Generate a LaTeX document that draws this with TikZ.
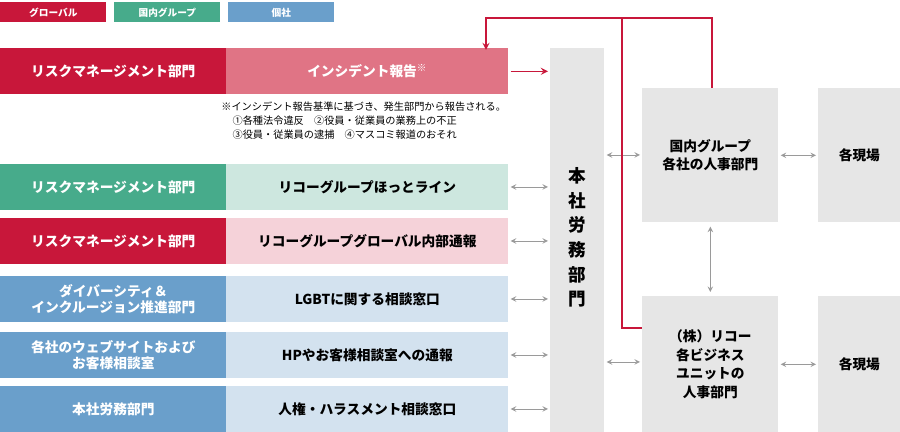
\documentclass[tikz,border=0pt]{standalone}
\usepackage{fontspec}
\setmainfont{Noto Sans CJK JP}
\usetikzlibrary{positioning}
\definecolor{globalRed}{HTML}{C8173A}
\definecolor{groupGreen}{HTML}{47AB8B}
\definecolor{companyBlue}{HTML}{6A9FCB}
\definecolor{pinkMid}{HTML}{E07485}
\definecolor{pinkPale}{HTML}{F5D2D9}
\definecolor{greenPale}{HTML}{CDE7DF}
\definecolor{bluePale}{HTML}{D3E2EF}
\definecolor{boxGray}{HTML}{E6E6E6}
\definecolor{arrowGray}{HTML}{9A9A9A}
\tikzstyle{legendBox} = [minimum width=2.12cm, minimum height=.4cm, inner sep=0pt, text=white, font=\fontsize{5.5}{6}\selectfont\bfseries]
\tikzstyle{leftBox} = [minimum width=4.52cm, minimum height=.92cm, inner sep=0pt, text=white, align=center, font=\fontsize{7.8}{9}\selectfont\bfseries]
\tikzstyle{rightBox} = [minimum width=5.64cm, minimum height=.92cm, inner sep=0pt, align=center, font=\fontsize{7.8}{9}\selectfont\bfseries]
\tikzstyle{grayBox} = [fill=boxGray, inner sep=0pt, align=center, font=\fontsize{7.8}{10.5}\selectfont\bfseries]
\tikzstyle{grayLink} = [color=arrowGray, thin, <->, >=stealth]
\tikzstyle{redLink} = [color=globalRed, thick, ->, >=stealth]
\newcommand{\reportRow}[6]{
  \node [leftBox, fill=#2, anchor=north west] (left#1) at (0, #3) {#4};
  \node [rightBox, fill=#5, anchor=north west] (right#1) at (4.52, #3) {#6};
}
\begin{document}
\begin{tikzpicture}[x=1cm, y=-1cm]
  \useasboundingbox (0,0) rectangle (18,8.64);
  \node [legendBox, fill=globalRed, anchor=north west] (legGlobal) at (0,.04) {グローバル};
  \node [legendBox, fill=groupGreen, anchor=north west] (legGroup) at (2.28,.04) {国内グループ};
  \node [legendBox, fill=companyBlue, anchor=north west] (legCompany) at (4.56,.04) {個社};

  \reportRow{1}{globalRed}{.96}{リスクマネージメント部門}{pinkMid}{\textcolor{white}{インシデント報告\textsuperscript{※}}}
  \reportRow{2}{groupGreen}{3.28}{リスクマネージメント部門}{greenPale}{リコーグループほっとライン}
  \reportRow{3}{globalRed}{4.36}{リスクマネージメント部門}{pinkPale}{リコーグループグローバル内部通報}
  \reportRow{4}{companyBlue}{5.52}{ダイバーシティ＆\\インクルージョン推進部門}{bluePale}{LGBTに関する相談窓口}
  \reportRow{5}{companyBlue}{6.64}{各社のウェブサイトおよび\\お客様相談室}{bluePale}{HPやお客様相談室への通報}
  \reportRow{6}{companyBlue}{7.72}{本社労務部門}{bluePale}{人権・ハラスメント相談窓口}

  % note under the incident report
  \node [anchor=north west, inner sep=0pt, align=left, font=\fontsize{5.8}{8}\selectfont] (note) at (4.42,2.02)
    {※インシデント報告基準に基づき、発生部門から報告される。\\
     \hspace{1.1em}①各種法令違反\quad ②役員・従業員の業務上の不正\\
     \hspace{1.1em}③役員・従業員の逮捕\quad ④マスコミ報道のおそれ};

  \node [grayBox, minimum width=1.08cm, minimum height=7.68cm, anchor=north west] (labor) at (11,.96) {};
  \node [font=\fontsize{10}{14}\selectfont\bfseries, align=center] (laborText) at (11.54,4.75) {本\\社\\労\\務\\部\\門};
  \node [grayBox, minimum width=2.72cm, minimum height=2.68cm, anchor=north west] (domestic) at (12.84,1.76) {国内グループ\\各社の人事部門};
  \node [grayBox, minimum width=1.64cm, minimum height=2.68cm, anchor=north west] (site1) at (16.36,1.76) {各現場};
  \node [grayBox, minimum width=2.72cm, minimum height=2.72cm, anchor=north west] (ricoh) at (12.84,5.92) {（株）リコー\\各ビジネス\\ユニットの\\人事部門};
  \node [grayBox, minimum width=1.64cm, minimum height=2.72cm, anchor=north west] (site2) at (16.36,5.92) {各現場};

  \foreach \row/\yy in {2/3.74, 3/4.82, 4/5.98, 5/7.10, 6/8.18} {
    \draw [grayLink] ([xshift=.04cm]right\row.east |- 0,\yy) -- ([xshift=-.04cm]labor.west |- 0,\yy);
  }
  \draw [grayLink] ([xshift=.04cm]labor.east |- 0,3.1) -- ([xshift=-.04cm]domestic.west |- 0,3.1);
  \draw [grayLink] ([xshift=.04cm]labor.east |- 0,7.24) -- ([xshift=-.04cm]ricoh.west |- 0,7.24);
  \draw [grayLink] ([xshift=.04cm]domestic.east) -- ([xshift=-.04cm]site1.west |- domestic.east);
  \draw [grayLink] ([xshift=.04cm]ricoh.east) -- ([xshift=-.04cm]site2.west |- ricoh.east);
  \draw [grayLink] ([yshift=-.08cm]domestic.south) -- ([yshift=.08cm]ricoh.north);

  \draw [redLink] ([xshift=.04cm]right1.east) -- ([xshift=-.04cm]labor.west |- right1.east);
  \coordinate (topRight) at (14.24,.36);
  \coordinate (topLeft) at (9.72,.36);
  \draw [redLink] (domestic.north -| topRight) -- (topRight) -- (topLeft) -- ([yshift=-.04cm]topLeft |- right1.north);
  \coordinate (branch) at (12.44,.36);
  \draw [color=globalRed, thick] (branch) -- (branch |- 0,6.56) -- (ricoh.west |- 0,6.56);
\end{tikzpicture}
\end{document}
